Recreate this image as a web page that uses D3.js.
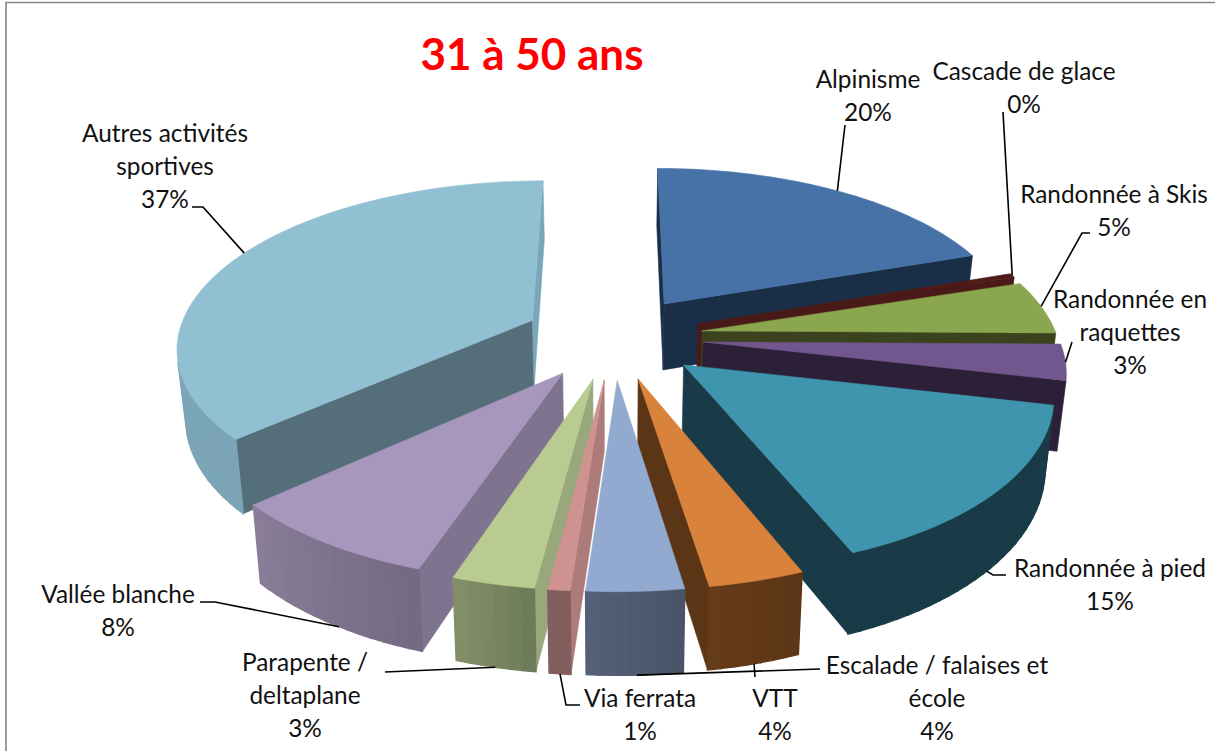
<!DOCTYPE html>
<html>
<head>
<meta charset="utf-8">
<script src="https://cdn.jsdelivr.net/npm/d3@7/dist/d3.min.js"></script>
<style>
  html, body { margin: 0; padding: 0; background: #fff; }
  svg { display: block; }
  text { font-family: Lato, "Open Sans", sans-serif; fill: #111; }
</style>
</head>
<body>
<div class="canvas"></div>
<script>
// data, in pie order (clockwise from the top)
const categories = ['Alpinisme', 'Cascade de glace', 'Randonnée à Skis', 'Randonnée en raquettes',
    'Randonnée à pied', 'VTT', 'Escalade / falaises et école', 'Via ferrata',
    'Parapente / deltaplane', 'Vallée blanche', 'Autres activités sportives'];
const values = [19.7, 0.4, 5.1, 3.4, 15.35, 3.6, 3.63, 0.82, 3.1, 8.2, 36.7];
const percentLabels = ['20%', '0%', '5%', '3%', '15%', '4%', '4%', '1%', '3%', '8%', '37%'];

// colours of each slice
const topColors = ['#4672a8', '#4f1b17', '#8aa64e', '#72568e', '#4095ae', '#d9823b', '#92a9d0', '#ce9290', '#b9cb91', '#a897bd', '#92c0d3'];
const cutColors = ['#1a2f47', '#4a1a18', '#3a421e', '#2b2038', '#193b47', '#5a3516', '#4b5568', '#ad7b79', '#99a87b', '#7f7490', '#546e7a'];
const cutEndColors = ['#1a2f47', '#4a1a18', '#3a421e', '#2b2038', '#193b47', '#5a3516', '#4b5568', '#ad7b79', '#99a87b', '#7f7490', '#79a6b8'];
const rimStart = ['#1a2f47', '#4a1a18', '#3a421e', '#2b2038', '#193b47', '#5c3617', '#4a5468', '#835e5e', '#6e7b58', '#756a83', '#7ba5b6'];
const rimEnd = ['#1a2f47', '#4a1a18', '#3a421e', '#2b2038', '#193b47', '#673d1b', '#56627b', '#835e5e', '#85926b', '#8a7e99', '#81acbd'];

// label placement: centre x, baseline of first line, text lines
const labelLines = [
    ['Alpinisme'], ['Cascade de glace'], ['Randonnée à Skis'], ['Randonnée en', 'raquettes'],
    ['Randonnée à pied'], ['VTT'], ['Escalade / falaises et', 'école'], ['Via ferrata'],
    ['Parapente /', 'deltaplane'], ['Vallée blanche'], ['Autres activités', 'sportives']];
const labelX = [868, 1024, 1114, 1130, 1110, 775, 937, 640, 305, 118, 165];
const labelY = [88, 80, 203, 308, 577, 707, 674, 707, 671, 603, 142];

// leader lines: fixed start points near the label, end on the slice rim
// leaderAt = position along the arc (0-1), leaderLow = 1 when it ends at the wall bottom
const leaderKnee = [
    [[845, 125]], [[1003, 112]], [[1090, 233], [1082, 233]], [[1072, 342]],
    [[1006, 575], [993, 575]], [[755, 677]], [[820, 669]], [[580, 705], [566, 705]],
    [[385, 672]], [[200, 602], [215, 602]], [[192, 207], [203, 207]]];
const leaderAt = [0.5, 0.5, 0.48, 0.5, 0.52, 0.5, 0.48, 0.5, 0.5, 0.45, 0.52];
const leaderLow = [0, 0, 0, 0, 1, 1, 1, 1, 1, 1, 0];

// projection of the tilted disc
const view = { cx: 613.5, cy: 337, radius: 355, tilt: 165, persp: 0.15, depth: 68, shrink: 0.98, explode: 0.2535 };
const step = 2 * Math.PI / 180;

const project = (px, q, low) => {
    const s = 1 / (1 - view.persp * q);
    return [
        view.cx + view.radius * px * s * (low ? view.shrink : 1),
        view.cy + view.tilt * q * s + (low ? view.depth * s : 0)
    ];
};

const pie = d3.pie().sort(null).value(d => d);
const slices = pie(values).map((d, i) => {
    const mid = (d.startAngle + d.endAngle) / 2;
    return {
        i,
        start: d.startAngle,
        end: d.endAngle,
        mid,
        ox: view.explode * Math.sin(mid),
        oq: -view.explode * Math.cos(mid)
    };
});

const point = (sl, a, r, low) => project(sl.ox + r * Math.sin(a), sl.oq - r * Math.cos(a), low);

const area = pts => d3.polygonArea(pts);

const svg = d3.select('.canvas')
    .append('svg')
    .attr('width', 1215)
    .attr('height', 751);

// frame
svg.append('path')
    .attr('d', 'M1215,2.5H6V751')
    .attr('fill', 'none')
    .attr('stroke', '#868686')
    .attr('stroke-width', 1.6);

const graph = svg.append('g');
const line = d3.line();

const drawFace = (pts, color, width) => {
    graph.append('path')
        .attr('d', line(pts) + 'Z')
        .attr('fill', color)
        .attr('stroke', color)
        .attr('stroke-width', width);
};

// far slices first
const order = slices.slice().sort((a, b) => a.oq - b.oq);

order.forEach(sl => {
    const i = sl.i;
    const n = Math.max(1, Math.ceil((sl.end - sl.start) / step));
    const angles = d3.range(n + 1).map(k => sl.start + (sl.end - sl.start) * k / n);

    // radial cut walls, only the ones turned to the camera
    const cutA = [point(sl, sl.start, 0, 0), point(sl, sl.start, 1, 0), point(sl, sl.start, 1, 1), point(sl, sl.start, 0, 1)];
    const cutB = [point(sl, sl.end, 0, 0), point(sl, sl.end, 0, 1), point(sl, sl.end, 1, 1), point(sl, sl.end, 1, 0)];
    if (area(cutA) > 0) drawFace(cutA, cutColors[i], 0.6);
    if (area(cutB) > 0) drawFace(cutB, cutEndColors[i], 0.6);

    // outer wall in narrow bands, overlapped so no seams show
    const shade = d3.interpolateRgb(rimStart[i], rimEnd[i]);
    for (let k = 0; k < n; k++) {
        const a = angles[k], b = angles[k + 1];
        const face = [point(sl, a, 1, 0), point(sl, a, 1, 1), point(sl, b, 1, 1), point(sl, b, 1, 0)];
        if (area(face) < 0) drawFace(face, shade(k / n), 1.4);
    }

    // top
    const top = [point(sl, sl.start, 0, 0)].concat(angles.map(a => point(sl, a, 1, 0)));
    drawFace(top, topColors[i], 0.6);
});

// leader lines
slices.forEach(sl => {
    const i = sl.i;
    const a = sl.start + (sl.end - sl.start) * leaderAt[i];
    const tip = point(sl, a, 1, leaderLow[i]);
    svg.append('path')
        .attr('d', line(leaderKnee[i].concat([tip])))
        .attr('fill', 'none')
        .attr('stroke', '#000')
        .attr('stroke-width', 1.6);
});

// labels
categories.forEach((c, i) => {
    const t = svg.append('text')
        .attr('text-anchor', 'middle')
        .attr('font-size', 24.4);
    labelLines[i].concat([percentLabels[i]]).forEach((s, k) => {
        t.append('tspan')
            .attr('x', labelX[i])
            .attr('y', labelY[i] + k * 33)
            .text(s);
    });
});

svg.append('text')
    .attr('x', 532)
    .attr('y', 70)
    .attr('text-anchor', 'middle')
    .attr('font-size', 44)
    .attr('font-weight', 700)
    .style('fill', '#ff0000')
    .text('31 à 50 ans');
</script>
</body>
</html>
